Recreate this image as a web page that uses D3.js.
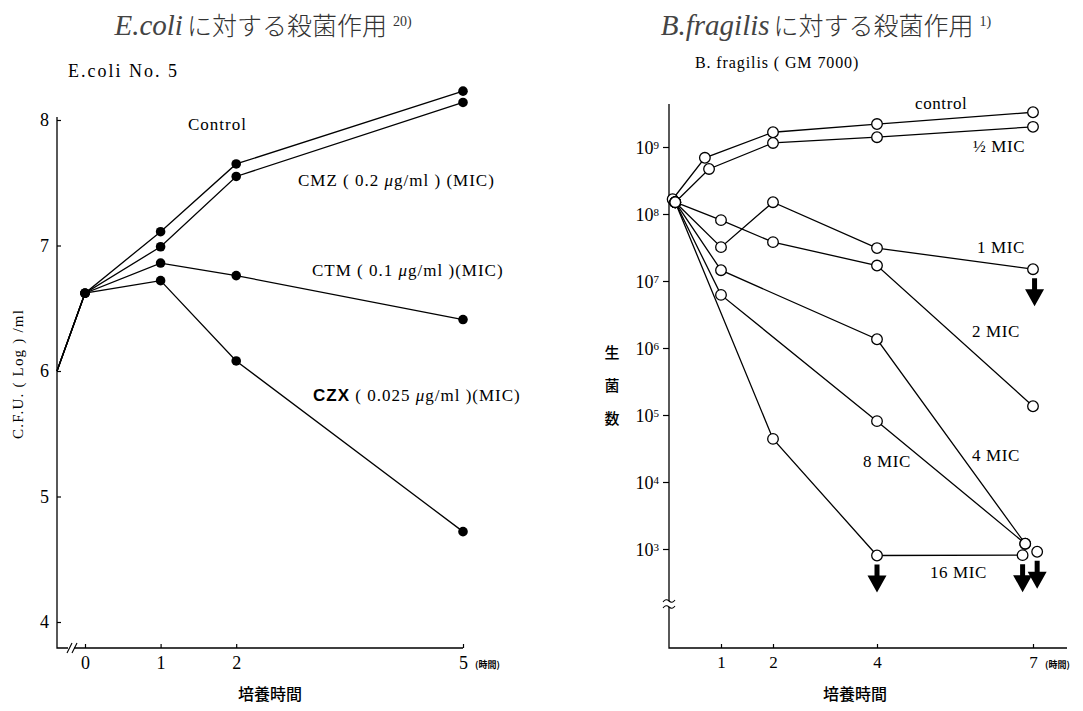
<!DOCTYPE html>
<html>
<head>
<meta charset="utf-8">
<script src="https://cdn.jsdelivr.net/npm/d3@7/dist/d3.min.js"></script>
<style>
	body { margin: 0; background: #fff; }
	svg { display: block; }
	.serif { font-family: "Liberation Serif", "DejaVu Serif", serif; }
	.jp { font-family: "Noto Sans CJK JP", sans-serif; }
</style>
</head>
<body>
<svg id="chart" width="1083" height="711"></svg>
<script>
// ---- E.coli data (log C.F.U./ml), first point sits on the y axis
var ecoliTimes = [-0.37, 0, 1, 2, 5];
var ecoliControl = [6.0, 6.62, 7.11, 7.65, 8.23];
var ecoliCMZ = [6.0, 6.62, 6.99, 7.55, 8.14];
var ecoliCTM = [6.0, 6.62, 6.86, 6.76, 6.41];
var ecoliCZX = [6.0, 6.62, 6.72, 6.08, 4.72];
var ecoliYTicks = [4, 5, 6, 7, 8];
var ecoliXTicks = [0, 1, 2, 5];

// ---- B.fragilis data (viable count)
var bfControlT = [0.07, 0.69, 2, 4, 7];
var bfControl = [1.66e8, 6.9e8, 1.66e9, 2.2e9, 3.3e9];
var bfHalfT = [0.12, 0.77, 2, 4, 7];
var bfHalf = [1.5e8, 4.7e8, 1.15e9, 1.4e9, 2.0e9];
var bf1T = [0.12, 1, 2, 4, 7];
var bf1 = [1.5e8, 3.2e7, 1.5e8, 3.1e7, 1.5e7];
var bf2T = [0.12, 1, 2, 4, 7];
var bf2 = [1.5e8, 8.1e7, 3.8e7, 1.7e7, 1.35e5];
var bf4T = [0.12, 1, 4, 6.85];
var bf4 = [1.5e8, 1.45e7, 1.35e6, 1.2e3];
var bf8T = [0.12, 1, 4, 6.85];
var bf8 = [1.5e8, 6.2e6, 8.1e4, 1.2e3];
var bf16T = [0.12, 2, 4, 6.8];
var bf16 = [1.5e8, 4.4e4, 8.0e2, 8.1e2];
var bfLoneT = [7.08];
var bfLone = [9.1e2];
// arrows (below detection) : time, count
var bfArrowT = [7.03, 4, 6.8, 7.08];
var bfArrowV = [1.5e7, 8.0e2, 8.1e2, 9.1e2];
var bfYTicks = [3, 4, 5, 6, 7, 8, 9];
var bfXTicks = [1, 2, 4, 7];

var svg = d3.select('#chart');

// ===== titles
function title(x, italicPart, jpPart, sup) {
	var t = svg.append('text')
		.attr('x', x)
		.attr('y', 35)
		.attr('text-anchor', 'middle')
		.attr('fill', '#333')
		.style('font-size', '25px');
	t.append('tspan').attr('class', 'serif').style('font-style', 'italic').style('font-size', '29px').attr('fill', '#444').text(italicPart);
	t.append('tspan').attr('class', 'jp').attr('dx', 4).style('font-weight', 300).text(jpPart);
	t.append('tspan').attr('class', 'serif').attr('dx', 6).attr('dy', -9).style('font-size', '14px').text(sup);
}
title(263, 'E.coli', 'に対する殺菌作用', '20)');
title(826, 'B.fragilis', 'に対する殺菌作用', '1)');

// ===== left chart
var xL = d3.scaleLinear().domain([0, 5]).range([85, 463]);
var yL = d3.scaleLinear().domain([4, 8]).range([622, 120]);
var axisL = { x0: 57, y0: 648, top: 117 };

svg.append('text').attr('class', 'serif')
	.attr('x', 68).attr('y', 77)
	.style('font-size', '18px').style('letter-spacing', '2px')
	.text('E.coli  No. 5');

// axis lines
svg.append('path')
	.attr('d', `M${axisL.x0},${axisL.top}V${axisL.y0}H${xL(5)}`)
	.attr('fill', 'none').attr('stroke', '#000').attr('stroke-width', 1.3);
// break mark on x axis
svg.append('rect').attr('x', 68).attr('y', axisL.y0 - 3).attr('width', 6).attr('height', 6).attr('fill', '#fff');
[67, 72].forEach(function (bx) {
	svg.append('line')
		.attr('x1', bx).attr('y1', axisL.y0 + 5)
		.attr('x2', bx + 5).attr('y2', axisL.y0 - 5)
		.attr('stroke', '#000').attr('stroke-width', 1.1);
});

// y ticks
var gyL = svg.append('g').attr('transform', `translate(${axisL.x0},0)`)
	.call(d3.axisLeft(yL).tickValues(ecoliYTicks).tickSize(-4).tickPadding(8).tickFormat(d3.format('d')));
gyL.select('.domain').remove();
gyL.selectAll('line').attr('stroke-width', 1.2);
gyL.selectAll('text').attr('class', 'serif').style('font-size', '18px').attr('fill', '#000');

// x ticks
var gxL = svg.append('g').attr('transform', `translate(0,${axisL.y0})`)
	.call(d3.axisBottom(xL).tickValues(ecoliXTicks).tickSize(-4).tickPadding(8).tickFormat(d3.format('d')));
gxL.select('.domain').remove();
gxL.selectAll('line').attr('stroke-width', 1.2);
gxL.selectAll('text').attr('class', 'serif').style('font-size', '18px').attr('fill', '#000');

svg.append('text').attr('class', 'jp')
	.attr('x', xL(5) + 12).attr('y', axisL.y0 + 20)
	.style('font-size', '9px').style('font-weight', 700)
	.text('(時間)');

svg.append('text').attr('class', 'jp')
	.attr('x', 270).attr('y', 700)
	.attr('text-anchor', 'middle')
	.style('font-size', '16px').style('font-weight', 500)
	.text('培養時間');

svg.append('text').attr('class', 'serif')
	.attr('transform', 'translate(23,374) rotate(-90)')
	.attr('text-anchor', 'middle')
	.style('font-size', '15px').style('letter-spacing', '1.2px')
	.text('C.F.U. ( Log ) /ml');

// lines + dots
var lineL = d3.line()
	.x(function (d) { return d[0] < 0 ? axisL.x0 : xL(d[0]); })
	.y(function (d) { return yL(d[1]); });

[ecoliControl, ecoliCMZ, ecoliCTM, ecoliCZX].forEach(function (series) {
	var pts = ecoliTimes.map(function (t, i) { return [t, series[i]]; });
	svg.append('path')
		.attr('d', lineL(pts))
		.attr('fill', 'none').attr('stroke', '#000').attr('stroke-width', 1.3);
	svg.selectAll(null)
		.data(pts.slice(1))
		.enter().append('circle')
		.attr('cx', function (d) { return xL(d[0]); })
		.attr('cy', function (d) { return yL(d[1]); })
		.attr('r', 4.8)
		.attr('fill', '#000');
});

// series labels
function leftLabel(x, y) {
	return svg.append('text').attr('class', 'serif')
		.attr('x', x).attr('y', y)
		.style('font-size', '17px').style('letter-spacing', '1px');
}
leftLabel(188, 130).text('Control');

var cmz = leftLabel(298, 186);
cmz.append('tspan').text('CMZ ( 0.2 ');
cmz.append('tspan').style('font-style', 'italic').text('μ');
cmz.append('tspan').text('g/ml )  (MIC)');

var ctm = leftLabel(312, 276);
ctm.append('tspan').text('CTM ( 0.1 ');
ctm.append('tspan').style('font-style', 'italic').text('μ');
ctm.append('tspan').text('g/ml )(MIC)');

var czx = leftLabel(313, 401);
czx.append('tspan').style('font-family', '"Liberation Sans", sans-serif').style('font-weight', 700).text('CZX');
czx.append('tspan').text('  ( 0.025 ');
czx.append('tspan').style('font-style', 'italic').text('μ');
czx.append('tspan').text('g/ml )(MIC)');

// ===== right chart
var xR = d3.scaleLinear().domain([0, 7]).range([669, 1033]);
var yR = d3.scaleLog().domain([1e3, 1e9]).range([549, 147]);
var axisR = { x0: 669, y0: 648, top: 104, right: 1067, brk: 604 };

svg.append('text').attr('class', 'serif')
	.attr('x', 695).attr('y', 68)
	.style('font-size', '16px').style('letter-spacing', '0.9px')
	.text('B. fragilis ( GM 7000)');

svg.append('path')
	.attr('d', `M${axisR.x0},${axisR.top}V${axisR.y0}H${axisR.right}`)
	.attr('fill', 'none').attr('stroke', '#000').attr('stroke-width', 1.3);
// break mark on y axis
svg.append('rect').attr('x', axisR.x0 - 3).attr('y', axisR.brk - 3).attr('width', 6).attr('height', 6).attr('fill', '#fff');
[-3, 3].forEach(function (dy) {
	var yb = axisR.brk + dy;
	svg.append('path')
		.attr('d', `M${axisR.x0 - 6},${yb + 1}Q${axisR.x0 - 3},${yb - 3} ${axisR.x0},${yb}T${axisR.x0 + 6},${yb - 1}`)
		.attr('fill', 'none').attr('stroke', '#000').attr('stroke-width', 1.1);
});

var yTickVals = bfYTicks.map(function (e) { return Math.pow(10, e); });
var gyR = svg.append('g').attr('transform', `translate(${axisR.x0},0)`)
	.call(d3.axisLeft(yR).tickValues(yTickVals).tickSize(6).tickPadding(4).tickFormat(function () { return ''; }));
gyR.select('.domain').remove();
gyR.selectAll('line').attr('stroke-width', 1.2);
gyR.selectAll('.tick text').each(function (d, i) {
	var t = d3.select(this).attr('class', 'serif').attr('fill', '#000').style('font-size', '18px').attr('dy', '0.35em');
	t.append('tspan').text('10');
	t.append('tspan').attr('dy', '-0.45em').style('font-size', '11px').text(bfYTicks[i]);
});

var gxR = svg.append('g').attr('transform', `translate(0,${axisR.y0})`)
	.call(d3.axisBottom(xR).tickValues(bfXTicks).tickSize(-4).tickPadding(8).tickFormat(d3.format('d')));
gxR.select('.domain').remove();
gxR.selectAll('line').attr('stroke-width', 1.2);
gxR.selectAll('text').attr('class', 'serif').style('font-size', '17px').attr('fill', '#000');

svg.append('text').attr('class', 'jp')
	.attr('x', xR(7) + 12).attr('y', axisR.y0 + 20)
	.style('font-size', '9px').style('font-weight', 700)
	.text('(時間)');

svg.append('text').attr('class', 'jp')
	.attr('x', 855).attr('y', 700)
	.attr('text-anchor', 'middle')
	.style('font-size', '16px').style('font-weight', 500)
	.text('培養時間');

['生', '菌', '数'].forEach(function (ch, i) {
	svg.append('text').attr('class', 'jp')
		.attr('x', 612).attr('y', 358 + i * 33)
		.attr('text-anchor', 'middle')
		.style('font-size', '15px').style('font-weight', 500)
		.text(ch);
});

var lineR = d3.line()
	.x(function (d) { return xR(d[0]); })
	.y(function (d) { return yR(d[1]); });

var bfSeries = [
	[bfControlT, bfControl], [bfHalfT, bfHalf], [bf1T, bf1], [bf2T, bf2],
	[bf4T, bf4], [bf8T, bf8], [bf16T, bf16]
];
bfSeries.forEach(function (s) {
	var pts = s[0].map(function (t, i) { return [t, s[1][i]]; });
	svg.append('path')
		.attr('d', lineR(pts))
		.attr('fill', 'none').attr('stroke', '#000').attr('stroke-width', 1.3);
});
// circles drawn on top of all lines
bfSeries.concat([[bfLoneT, bfLone]]).forEach(function (s) {
	var pts = s[0].map(function (t, i) { return [t, s[1][i]]; });
	svg.selectAll(null)
		.data(pts)
		.enter().append('circle')
		.attr('cx', function (d) { return xR(d[0]); })
		.attr('cy', function (d) { return yR(d[1]); })
		.attr('r', 5.3)
		.attr('fill', '#fff')
		.attr('stroke', '#000')
		.attr('stroke-width', 1.3);
});

// down arrows
bfArrowT.forEach(function (t, i) {
	var ax = xR(t);
	var ay = yR(bfArrowV[i]);
	svg.append('path')
		.attr('d', `M${ax - 2.5},${ay + 9}H${ax + 2.5}V${ay + 20}H${ax + 9.5}L${ax},${ay + 37}L${ax - 9.5},${ay + 20}H${ax - 2.5}Z`)
		.attr('fill', '#000');
});

// series labels
function bfLabel(x, y, txt) {
	svg.append('text').attr('class', 'serif')
		.attr('x', x).attr('y', y)
		.style('font-size', '17px').style('letter-spacing', '0.6px')
		.text(txt);
}
bfLabel(915, 109, 'control');
bfLabel(973, 152, '½ MIC');
bfLabel(977, 253, '1 MIC');
bfLabel(972, 337, '2 MIC');
bfLabel(972, 461, '4 MIC');
bfLabel(863, 467, '8 MIC');
bfLabel(930, 578, '16 MIC');
</script>
</body>
</html>
